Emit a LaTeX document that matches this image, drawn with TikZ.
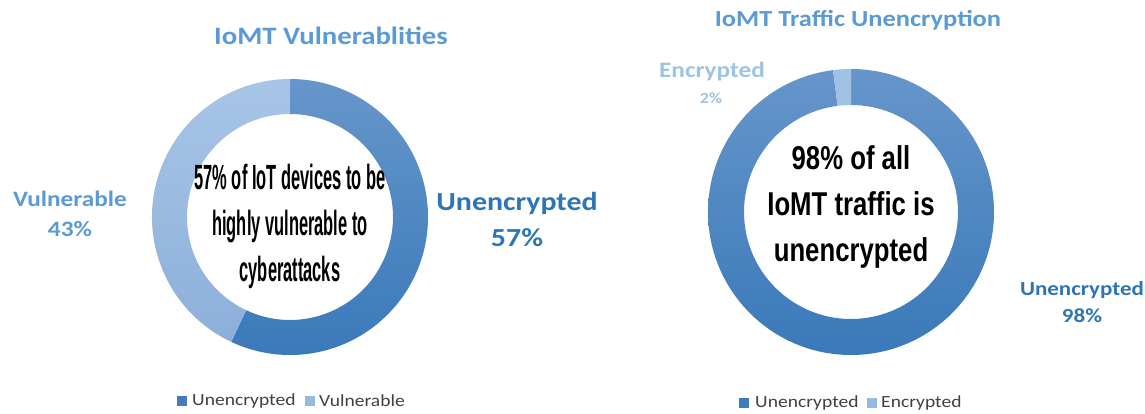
\documentclass[tikz,border=0pt]{standalone}
\usepackage{fontspec}
\setmainfont{Carlito}[FakeStretch=1.15]
\newfontfamily\narrowA{Liberation Sans}[FakeStretch=0.47]
\newfontfamily\narrowB{Liberation Sans}[FakeStretch=0.78]
\definecolor{ringtop}{RGB}{102,150,202}
\definecolor{ringbot}{RGB}{58,121,186}
\definecolor{lighttop}{RGB}{168,197,231}
\definecolor{lightbot}{RGB}{140,175,217}
\definecolor{encslice}{RGB}{160,192,228}
\definecolor{titleblue}{RGB}{91,155,213}
\definecolor{darklab}{RGB}{46,117,182}
\definecolor{vulnlab}{RGB}{91,155,213}
\definecolor{enclab}{RGB}{157,195,230}
\definecolor{legtext}{RGB}{64,64,64}
\definecolor{legdark}{RGB}{66,124,190}
\definecolor{leglight}{RGB}{150,185,225}
\tikzset{
  titletext/.style={font=\bfseries\fontsize{#1}{#1}\selectfont, text=titleblue, inner sep=0pt},
  labeltext/.style={font=\bfseries\fontsize{#1}{#1}\selectfont, inner sep=0pt},
  legendtext/.style={font=\fontsize{17}{17}\selectfont, text=legtext, anchor=west, inner sep=0pt},
  legendbox/.style={minimum size=10pt, inner sep=0pt}
}
\begin{document}
\begin{tikzpicture}[x=1pt,y=1pt]
\useasboundingbox (0,0) rectangle (1145,413);
\fill[white] (0,0) rectangle (1145,413);

% ---------- left donut ----------
\begin{scope}[shift={(290,196)}]
\shade[top color=ringtop, bottom color=ringbot]
  (90:138) arc[start angle=90, end angle=-115.2, radius=138]
  -- (-115.2:103) arc[start angle=-115.2, end angle=90, radius=103] -- cycle;
\shade[top color=lighttop, bottom color=lightbot]
  (-115.2:138) arc[start angle=-115.2, end angle=-270, radius=138]
  -- (-270:103) arc[start angle=-270, end angle=-115.2, radius=103] -- cycle;
\end{scope}
\node[font=\narrowA\bfseries\fontsize{35}{46}\selectfont, align=center, inner sep=0pt] (lc) at (290,187)
  {57\% of IoT devices to be\\highly vulnerable to\\cyberattacks};

\node[titletext=25] (ltitle) at (331,377) {IoMT Vulnerablities};
\node[labeltext=22, text=vulnlab] (lvul) at (70,214) {Vulnerable};
\node[labeltext=22, text=vulnlab] (lvulp) at (70,184) {43\%};
\node[labeltext=26, text=darklab] (lunc) at (517,210) {Unencrypted};
\node[labeltext=26, text=darklab] (luncp) at (517,175) {57\%};

\node[legendbox, fill=legdark] (lk1) at (182,12) {};
\node[legendtext] (lt1) at (192,12) {Unencrypted};
\node[legendbox, fill=leglight] (lk2) at (310,12) {};
\node[legendtext] (lt2) at (319,12) {Vulnerable};

% ---------- right donut ----------
\begin{scope}[shift={(851,201)}]
\shade[top color=ringtop, bottom color=ringbot]
  (90:143) arc[start angle=90, end angle=-262.8, radius=143]
  -- (-262.8:107) arc[start angle=-262.8, end angle=90, radius=107] -- cycle;
\fill[encslice]
  (90:143) arc[start angle=90, end angle=97.2, radius=143]
  -- (97.2:107) arc[start angle=97.2, end angle=90, radius=107] -- cycle;
\end{scope}
\node[font=\narrowB\bfseries\fontsize{33}{46}\selectfont, align=center, inner sep=0pt] (rc) at (851,206)
  {98\% of all\\IoMT traffic is\\unencrypted};

\node[titletext=23] (rtitle) at (858,393) {IoMT Traffic Unencryption};
\node[labeltext=22, text=enclab] (renc) at (712,341) {Encrypted};
\node[labeltext=15.5, text=enclab] (rencp) at (711,315) {2\%};
\node[labeltext=20, text=darklab] (runc) at (1082,123) {Unencrypted};
\node[labeltext=20, text=darklab] (runcp) at (1082,97) {98\%};

\node[legendbox, fill=legdark] (rk1) at (744,10) {};
\node[legendtext] (rt1) at (755,10) {Unencrypted};
\node[legendbox, fill=leglight] (rk2) at (872,10) {};
\node[legendtext] (rt2) at (881,10) {Encrypted};
\end{tikzpicture}
\end{document}
